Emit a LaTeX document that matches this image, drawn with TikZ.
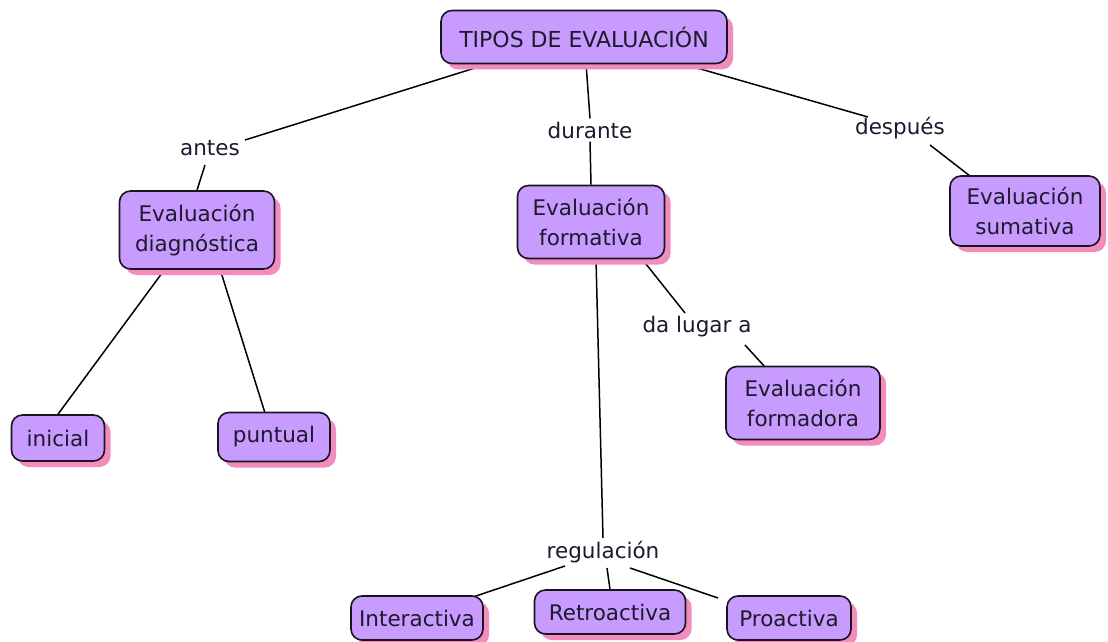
\documentclass[tikz,border=0pt]{standalone}
\usepackage{fontspec}
\setmainfont{DejaVu Sans}
\usetikzlibrary{shadows,backgrounds}
\definecolor{boxfill}{RGB}{200,155,255}
\definecolor{shadowpink}{RGB}{242,140,190}
\definecolor{edge}{RGB}{25,20,30}
\definecolor{txt}{RGB}{30,25,45}
\tikzset{
  concept/.style={draw=edge, line width=1.6pt, fill=boxfill, rounded corners=11pt,
    align=center, inner sep=2pt, text=txt, font=\fontsize{21.5}{30}\selectfont,
    drop shadow={shadow xshift=6pt, shadow yshift=-6pt, fill=shadowpink, opacity=1}},
  linklabel/.style={inner sep=3pt, text=txt, font=\fontsize{21.5}{26}\selectfont},
  conn/.style={draw=black, line width=1.5pt}
}
\begin{document}
\begin{tikzpicture}[x=1pt,y=-1pt]
\useasboundingbox (0,0) rectangle (1108,642);
\node[concept, minimum width=286pt, minimum height=53pt, font=\fontsize{22}{30}\selectfont] (tipos) at (584,37) {TIPOS DE EVALUACIÓN};
\node[concept, minimum width=155pt, minimum height=78pt] (diag) at (197,230) {Evaluación\\diagnóstica};
\node[concept, minimum width=147pt, minimum height=73pt] (form) at (591,222) {Evaluación\\formativa};
\node[concept, minimum width=150pt, minimum height=70pt] (sum) at (1025,211) {Evaluación\\sumativa};
\node[concept, minimum width=93pt, minimum height=46pt] (ini) at (58,438) {inicial};
\node[concept, minimum width=112pt, minimum height=49pt] (pun) at (274,437) {puntual};
\node[concept, minimum width=154pt, minimum height=73pt] (fdora) at (803,403) {Evaluación\\formadora};
\node[concept, minimum width=132pt, minimum height=44pt] (inter) at (417,618) {Interactiva};
\node[concept, minimum width=151pt, minimum height=44pt] (retro) at (610,612) {Retroactiva};
\node[concept, minimum width=124pt, minimum height=44pt] (proa) at (789,618) {Proactiva};

\node[linklabel] (antes) at (210,148) {antes};
\node[linklabel] (durante) at (590,130) {durante};
\node[linklabel] (despues) at (900,128) {después};
\node[linklabel] (dalugar) at (697,327) {da lugar a};
\node[linklabel] (regul) at (603,552) {regulación};

\begin{scope}[on background layer]
\draw[conn] (475,68) -- (245,140);
\draw[conn] (205,165) -- (diag.north);
\draw[conn] (586,63) -- (durante.north);
\draw[conn] (durante.south) -- (form.north);
\draw[conn] (697,68) -- (868,117);
\draw[conn] (930,145) -- (970,176);
\draw[conn] (165,269) -- (ini.north);
\draw[conn] (220,269) -- (265,413);
\draw[conn] (642,259) -- (685,313);
\draw[conn] (745,345) -- (765,367);
\draw[conn] (596,259) -- (regul.north);
\draw[conn] (565,566) -- (470,598);
\draw[conn] (607,568) -- (retro.north);
\draw[conn] (630,568) -- (718,598);
\end{scope}
\end{tikzpicture}
\end{document}
